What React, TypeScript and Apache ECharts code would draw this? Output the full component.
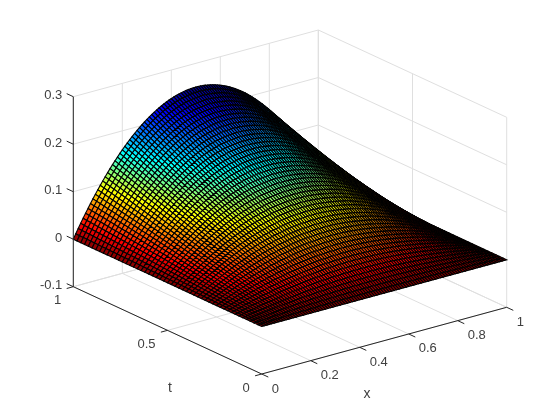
import React, { useEffect, useRef } from "react";
import * as echarts from "echarts";

// Mesh lines.
const xGrid = [0,0.01,0.02,0.03,0.04,0.05,0.06,0.07,0.08,0.09,0.1,0.11,0.12,0.13,0.14,0.15,0.16,0.17,0.18,0.19,0.2,0.21,0.22,0.23,0.24,0.25,0.26,0.27,0.28,0.29,0.3,0.31,0.32,0.33,0.34,0.35,0.36,0.37,0.38,0.39,0.4,0.41,0.42,0.43,0.44,0.45,0.46,0.47,0.48,0.49,0.5,0.51,0.52,0.53,0.54,0.55,0.56,0.57,0.58,0.59,0.6,0.61,0.62,0.63,0.64,0.65,0.66,0.67,0.68,0.69,0.7,0.71,0.72,0.73,0.74,0.75,0.76,0.77,0.78,0.79,0.8,0.81,0.82,0.83,0.84,0.85,0.86,0.87,0.88,0.89,0.9,0.91,0.92,0.93,0.94,0.95,0.96,0.97,0.98,0.99,1];
const tGrid = [0,0.02,0.04,0.06,0.08,0.1,0.12,0.14,0.16,0.18,0.2,0.22,0.24,0.26,0.28,0.3,0.32,0.34,0.36,0.38,0.4,0.42,0.44,0.46,0.48,0.5,0.52,0.54,0.56,0.58,0.6,0.62,0.64,0.66,0.68,0.7,0.72,0.74,0.76,0.78,0.8,0.82,0.84,0.86,0.88,0.9,0.92,0.94,0.96,0.98,1];
// Height along the t = 1 edge, estimated from the silhouette and smoothed to a parabola.
// The surface is modelled as ridgeProfile[x] * t, which is an approximation of the picture
// rather than a per-cell reading: the mesh is too dense to read cell by cell.
const ridgeProfile = [0,0.0099,0.0196,0.0291,0.0384,0.0475,0.0564,0.0651,0.0736,0.0819,0.09,0.0979,0.1056,0.1131,0.1204,0.1275,0.1344,0.1411,0.1476,0.1539,0.16,0.1659,0.1716,0.1771,0.1824,0.1875,0.1924,0.1971,0.2016,0.2059,0.21,0.2139,0.2176,0.2211,0.2244,0.2275,0.2304,0.2331,0.2356,0.2379,0.24,0.2419,0.2436,0.2451,0.2464,0.2475,0.2484,0.2491,0.2496,0.2499,0.25,0.2499,0.2496,0.2491,0.2484,0.2475,0.2464,0.2451,0.2436,0.2419,0.24,0.2379,0.2356,0.2331,0.2304,0.2275,0.2244,0.2211,0.2176,0.2139,0.21,0.2059,0.2016,0.1971,0.1924,0.1875,0.1824,0.1771,0.1716,0.1659,0.16,0.1539,0.1476,0.1411,0.1344,0.1275,0.1204,0.1131,0.1056,0.0979,0.09,0.0819,0.0736,0.0651,0.0564,0.0475,0.0384,0.0291,0.0196,0.0099,0];

const xTicks = [0, 0.2, 0.4, 0.6, 0.8, 1];
const xTickLabels = ["0", "0.2", "0.4", "0.6", "0.8", "1"];
const tTicks = [0, 0.5, 1];
const tTickLabels = ["0", "0.5", "1"];
const zTicks = [-0.1, 0, 0.1, 0.2, 0.3];
const zTickLabels = ["-0.1", "0", "0.1", "0.2", "0.3"];
const zMin = -0.1;
const zMax = 0.3;
const colorTop = 0.25;

// Reversed jet colormap
const jetStops: [number, number[]][] = [
  [0, [128, 0, 0]],
  [0.11, [255, 0, 0]],
  [0.375, [255, 255, 0]],
  [0.625, [0, 255, 255]],
  [0.89, [0, 0, 255]],
  [1, [0, 0, 143]],
];

function jet(v: number) {
  const c = Math.max(0, Math.min(1, v));
  for (let k = 1; k < jetStops.length; k++) {
    if (c <= jetStops[k][0]) {
      const [a, ca] = jetStops[k - 1];
      const [b, cb] = jetStops[k];
      const f = (c - a) / (b - a);
      return `rgb(${ca.map((q, n) => Math.round(q + (cb[n] - q) * f)).join(",")})`;
    }
  }
  return "rgb(0,0,143)";
}

// Orthographic view of the 3D box on the page plane.
const ORIGIN = [261.7, 374];
const XV = [245, -66.7];
const TV = [-188.4, -87.3];
const ZV = -475;

function project(x: number, t: number, z: number): [number, number] {
  return [
    ORIGIN[0] + XV[0] * x + TV[0] * t,
    ORIGIN[1] + XV[1] * x + TV[1] * t + ZV * (z - zMin),
  ];
}

const GRID_COLOR = "#dfdfdf";
const AXIS_COLOR = "#262626";
const TEXT_COLOR = "#404040";
const FONT = '13px "Liberation Sans", Arial, sans-serif';
const TITLE_FONT = '14px "Liberation Sans", Arial, sans-serif';

type Seg = [number, number, number, number, number, number];

function gridSegments(): Seg[] {
  const s: Seg[] = [];
  xTicks.forEach((x) => {
    s.push([x, 0, zMin, x, 1, zMin]);
    s.push([x, 1, zMin, x, 1, zMax]);
  });
  tTicks.forEach((t) => {
    s.push([0, t, zMin, 1, t, zMin]);
    s.push([1, t, zMin, 1, t, zMax]);
  });
  zTicks.forEach((z) => {
    s.push([0, 1, z, 1, 1, z]);
    s.push([1, 0, z, 1, 1, z]);
  });
  return s;
}

function axisSegments(): Seg[] {
  const s: Seg[] = [
    [0, 0, zMin, 1, 0, zMin],
    [0, 0, zMin, 0, 1, zMin],
    [0, 1, zMin, 0, 1, zMax],
  ];
  xTicks.forEach((x) => s.push([x, 0, zMin, x, -0.035, zMin]));
  tTicks.forEach((t) => s.push([0, t, zMin, -0.027, t, zMin]));
  zTicks.forEach((z) => s.push([0, 1, z, 0, 1.035, z]));
  return s;
}

function cells(): number[][] {
  const out: number[][] = [];
  for (let j = tGrid.length - 2; j >= 0; j--) {
    for (let i = xGrid.length - 2; i >= 0; i--) out.push([i, j]);
  }
  return out;
}

type Lab = { text: string; p: [number, number]; align: string; font: string };

function labels(): Lab[] {
  const out: Lab[] = [];
  xTicks.forEach((x, k) => {
    const [a, b] = project(x, 0, zMin);
    out.push({ text: xTickLabels[k], p: [a + 10, b + 14], align: "left", font: FONT });
  });
  tTicks.forEach((t, k) => {
    const [a, b] = project(0, t, zMin);
    out.push({ text: tTickLabels[k], p: [a - 12, b + 13], align: "right", font: FONT });
  });
  zTicks.forEach((z, k) => {
    const [a, b] = project(0, 1, z);
    out.push({ text: zTickLabels[k], p: [a - 11, b - 2], align: "right", font: FONT });
  });
  out.push({ text: "t", p: [170, 386.5], align: "center", font: TITLE_FONT });
  out.push({ text: "x", p: [367, 392.5], align: "center", font: TITLE_FONT });
  return out;
}

function segSeries(name: string, data: Seg[], color: string, z: number) {
  return {
    type: "custom",
    name,
    coordinateSystem: "cartesian2d",
    silent: true,
    clip: false,
    progressive: 0,
    z,
    data,
    renderItem: (_: any, api: any) => {
      const v = [0, 1, 2, 3, 4, 5].map((d) => api.value(d));
      const a = api.coord(project(v[0], v[1], v[2]));
      const b = api.coord(project(v[3], v[4], v[5]));
      return {
        type: "line",
        shape: { x1: a[0], y1: a[1], x2: b[0], y2: b[1] },
        style: { stroke: color, lineWidth: 1, fill: "none" },
      };
    },
  };
}

export default function App() {
  const ref = useRef<HTMLDivElement>(null);
  useEffect(() => {
    const chart = echarts.init(ref.current!, undefined, { renderer: "svg" });
    const labelData = labels();
    chart.setOption({
      animation: false,
      backgroundColor: "#ffffff",
      grid: { left: 0, top: 0, right: 0, bottom: 0 },
      xAxis: { type: "value", min: 0, max: 560, show: false },
      yAxis: { type: "value", min: 0, max: 420, inverse: true, show: false },
      series: [
        segSeries("grid", gridSegments(), GRID_COLOR, 1),
        {
          type: "custom",
          name: "surface",
          coordinateSystem: "cartesian2d",
          silent: true,
          clip: false,
          progressive: 0,
          z: 2,
          data: cells(),
          renderItem: (_: any, api: any) => {
            const i = api.value(0);
            const j = api.value(1);
            const corners: [number, number][] = [
              [i, j],
              [i + 1, j],
              [i + 1, j + 1],
              [i, j + 1],
            ];
            let sum = 0;
            const points = corners.map(([a, b]) => {
              const h = ridgeProfile[a] * tGrid[b];
              sum += h;
              return api.coord(project(xGrid[a], tGrid[b], h));
            });
            return {
              type: "polygon",
              shape: { points },
              style: { fill: jet(sum / 4 / colorTop), stroke: "#000000", lineWidth: 1.1 },
            };
          },
        },
        segSeries("axes", axisSegments(), AXIS_COLOR, 3),
        {
          type: "custom",
          name: "labels",
          coordinateSystem: "cartesian2d",
          silent: true,
          clip: false,
          progressive: 0,
          z: 4,
          data: labelData.map((_, k) => [k]),
          renderItem: (_: any, api: any) => {
            const l = labelData[api.value(0)];
            const p = api.coord(l.p);
            return {
              type: "text",
              x: p[0],
              y: p[1],
              style: {
                text: l.text,
                font: l.font,
                fill: TEXT_COLOR,
                align: l.align,
                verticalAlign: "middle",
              },
            };
          },
        },
      ],
    });
    return () => chart.dispose();
  }, []);
  return <div ref={ref} style={{ position: "fixed", left: 0, top: 0, width: 560, height: 420, willChange: "transform" }} />;
}
